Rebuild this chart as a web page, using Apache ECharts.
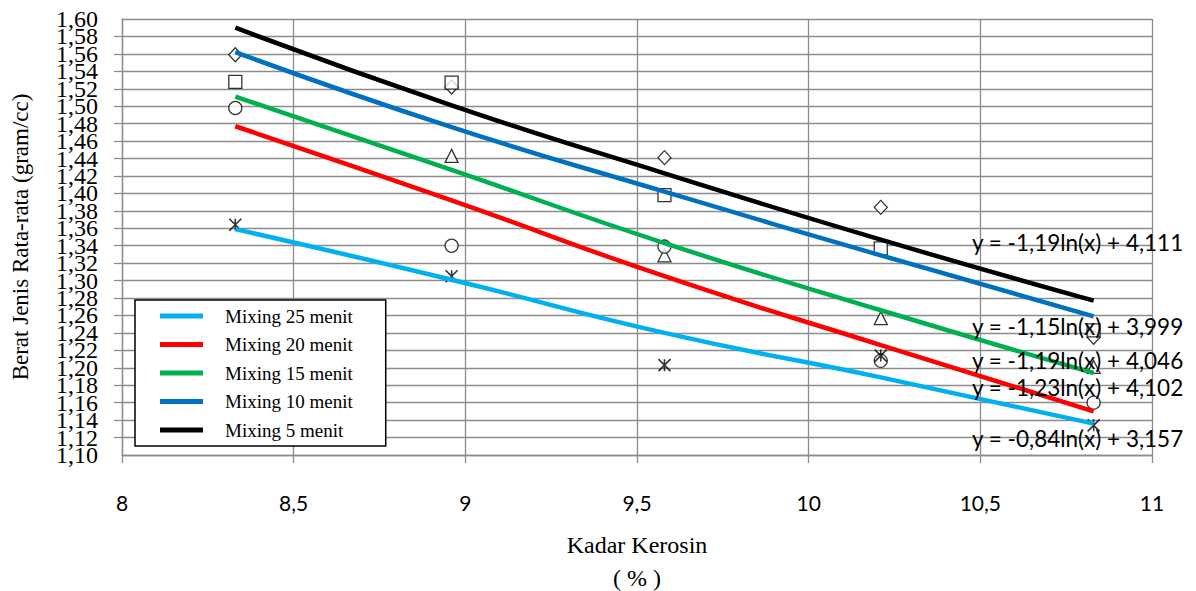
<!DOCTYPE html>
<html>
<head>
<meta charset="utf-8">
<script src="https://cdn.jsdelivr.net/npm/echarts@6/dist/echarts.min.js"></script>
<style>
  html, body { margin: 0; padding: 0; background: #fff; }
  #chart { width: 1196px; height: 591px; }
</style>
</head>
<body>
<div id="chart"></div>
<script>
// kadar kerosin (%)
const kadar = [8.33, 8.96, 9.58, 10.21, 10.83]

// titik data
const diamondVals = [1.559, 1.522, 1.441, 1.384, 1.235]
const squareVals = [1.528, 1.527, 1.398, 1.337, 1.243]
const triangleVals = [null, 1.443, 1.329, 1.257, 1.201]
const circleVals = [1.498, 1.340, 1.339, 1.208, 1.160]
const starVals = [1.364, 1.305, 1.203, 1.214, 1.134]

// garis trend
const trend25 = [1.359, 1.301, 1.240, 1.189, 1.136]
const trend20 = [1.477, 1.392, 1.305, 1.226, 1.150]
const trend15 = [1.511, 1.427, 1.343, 1.266, 1.194]
const trend10 = [1.562, 1.476, 1.402, 1.329, 1.259]
const trend5 = [1.590, 1.501, 1.423, 1.347, 1.277]

const trendNames = ['Mixing 25 menit', 'Mixing 20 menit', 'Mixing 15 menit', 'Mixing 10 menit', 'Mixing 5 menit']
const trendColors = ['#00b0f0', '#ff0000', '#00b050', '#0070c0', '#000000']
const trendData = [trend25, trend20, trend15, trend10, trend5]

const equations = [
  'y = -1,19ln(x) + 4,111',
  'y = -1,15ln(x) + 3,999',
  'y = -1,19ln(x) + 4,046',
  'y = -1,23ln(x) + 4,102',
  'y = -0,84ln(x) + 3,157'
]
const equationY = [242, 326, 360, 387, 438]

const Y_MIN = 1.10
const Y_MAX = 1.60

const pair = vals => kadar.map((x, i) => [x, vals[i]])
const comma = (v, d) => (d == null ? String(v) : v.toFixed(d)).replace('.', ',')
const isEnd = v => Math.abs(v - Y_MIN) < 1e-6 || Math.abs(v - Y_MAX) < 1e-6

const markerStyle = {
  color: '#fff',
  borderColor: '#000',
  borderWidth: 1.3
}

const scatter = (vals, symbol, size) => ({
  type: 'scatter',
  data: pair(vals),
  symbol: symbol,
  symbolSize: size,
  itemStyle: markerStyle,
  z: 2,
  silent: true
})

const yLabelStyle = {
  margin: 24,
  fontFamily: 'Liberation Serif',
  fontSize: 24,
  color: '#000',
  hideOverlap: false
}

const chart = echarts.init(document.getElementById('chart'), null, { renderer: 'svg' })

const option = {
  animation: false,
  grid: { left: 122, right: 44, top: 19, bottom: 136, outerBoundsMode: 'none', containLabel: false },
  legend: {
    data: trendNames,
    orient: 'vertical',
    left: 135,
    top: 300,
    width: 254,
    backgroundColor: '#fff',
    borderColor: '#000',
    borderWidth: 1.5,
    borderRadius: 0,
    padding: [6, 33, 6, 25],
    itemWidth: 43,
    itemHeight: 5,
    itemGap: 8.5,
    icon: 'rect',
    textStyle: {
      fontFamily: 'Liberation Serif',
      fontSize: 19,
      lineHeight: 20,
      color: '#000',
      padding: [0, 0, 0, 17]
    }
  },
  xAxis: {
    type: 'value',
    min: 8,
    max: 11,
    interval: 0.5,
    name: 'Kadar Kerosin\n( % )',
    nameLocation: 'middle',
    nameGap: 73,
    nameTextStyle: {
      fontFamily: 'Liberation Serif',
      fontSize: 24,
      lineHeight: 33,
      color: '#000'
    },
    axisLine: { onZero: false, lineStyle: { color: '#8c8c8c', width: 1.3 } },
    axisTick: { show: true, length: 8, lineStyle: { color: '#8c8c8c', width: 1.3 } },
    axisLabel: {
      margin: 37,
      fontFamily: 'Lato',
      fontSize: 21,
      color: '#000',
      showMinLabel: true,
      showMaxLabel: true,
      hideOverlap: false,
      formatter: v => comma(v)
    },
    splitLine: { show: true, lineStyle: { color: '#8c8c8c', width: 1.3 } }
  },
  yAxis: [
    {
      // sumbu utama: label 1,12 .. 1,58
      type: 'value',
      min: Y_MIN,
      max: Y_MAX,
      interval: 0.02,
      name: 'Berat Jenis Rata-rata (gram/cc)',
      nameLocation: 'middle',
      nameGap: 90,
      nameTextStyle: {
        fontFamily: 'Liberation Serif',
        fontSize: 23,
        color: '#000'
      },
      axisLine: { show: true, lineStyle: { color: '#8c8c8c', width: 1.3 } },
      axisTick: { show: true, length: 8, lineStyle: { color: '#8c8c8c', width: 1.3 } },
      axisLabel: {
        ...yLabelStyle,
        showMinLabel: false,
        showMaxLabel: false,
        formatter: v => comma(v, 2)
      },
      splitLine: { show: true, lineStyle: { color: '#8c8c8c', width: 1.3 } }
    },
    {
      // hanya label 1,10 dan 1,60 (supaya tidak disembunyikan karena tumpang tindih)
      type: 'value',
      position: 'left',
      min: Y_MIN,
      max: Y_MAX,
      interval: 0.02,
      axisLine: { show: false },
      axisTick: { show: false },
      splitLine: { show: false },
      axisLabel: {
        ...yLabelStyle,
        showMinLabel: true,
        showMaxLabel: true,
        formatter: v => (isEnd(v) ? comma(v, 2) : '')
      }
    }
  ],
  graphic: equations.map((t, i) => ({
    type: 'text',
    x: 972,
    y: equationY[i],
    z: 10,
    style: {
      text: t,
      font: '22.5px Lato',
      fill: '#000',
      verticalAlign: 'middle'
    }
  })),
  series: [
    scatter(diamondVals, 'diamond', [13, 14]),
    scatter(squareVals, 'rect', 13),
    scatter(triangleVals, 'triangle', 13),
    scatter(circleVals, 'circle', 13),
    {
      ...scatter(starVals, 'path://M0,0L10,10M10,0L0,10M5,0L5,10', 12),
      itemStyle: { color: 'none', borderColor: '#000', borderWidth: 1.6 }
    },
    ...trendNames.map((name, i) => ({
      name: name,
      type: 'line',
      data: pair(trendData[i]),
      smooth: true,
      symbol: 'none',
      z: 3,
      itemStyle: { color: trendColors[i] },
      lineStyle: { color: trendColors[i], width: 4.5 }
    }))
  ]
}

chart.setOption(option)
</script>
</body>
</html>
